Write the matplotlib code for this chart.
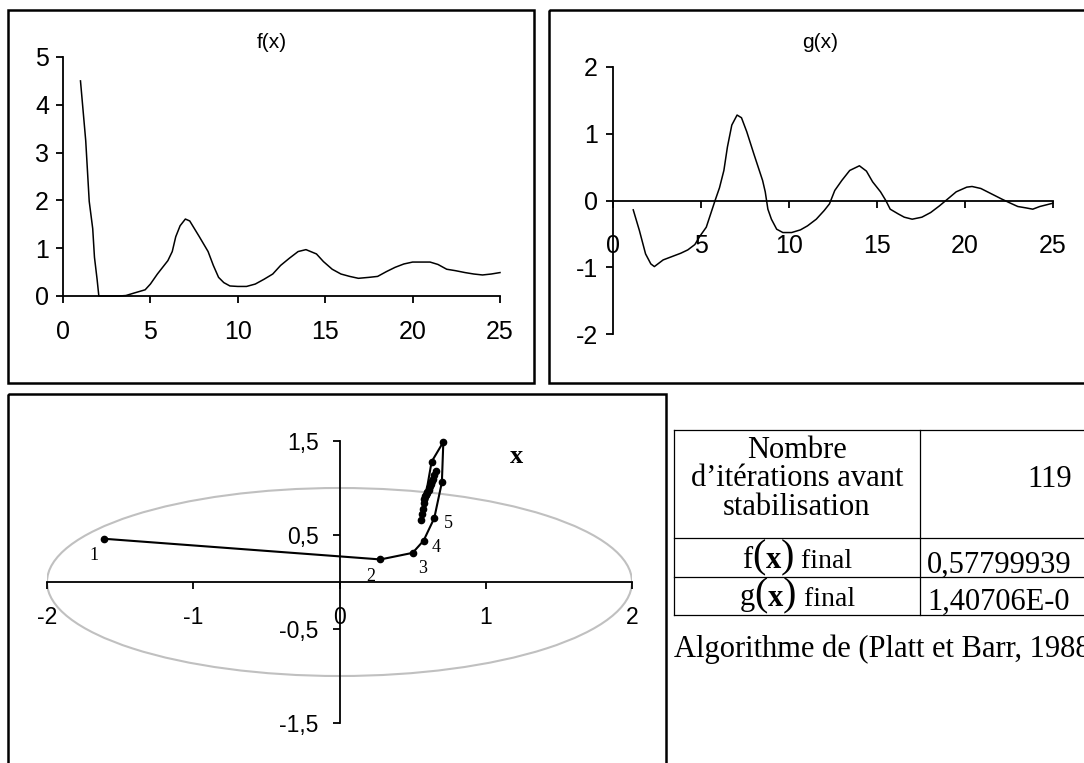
import matplotlib
matplotlib.use("Agg")
import matplotlib.pyplot as plt
from matplotlib.patches import Rectangle, Ellipse
from matplotlib.offsetbox import TextArea, HPacker, AnnotationBbox

plt.rcParams["font.family"] = ["Liberation Sans", "DejaVu Sans"]
plt.rcParams["axes.unicode_minus"] = False

# ---- DATA ----
f_x = [1.0, 1.3, 1.5, 1.7, 1.8, 1.95, 2.05, 3.2, 3.6, 4.05,
       4.7, 5.0, 5.4, 6.0, 6.25, 6.45, 6.7, 7.0, 7.25, 7.8,
       8.3, 8.6, 8.9, 9.2, 9.55, 10.0, 10.5, 11.0, 11.5, 12.0,
       12.45, 12.95, 13.45, 13.9, 14.5, 14.9, 15.4, 15.9, 16.4, 16.9,
       17.5, 18.0, 18.5, 19.0, 19.5, 20.0, 20.5, 21.0, 21.45, 21.95,
       22.45, 23.0, 23.5, 24.0, 24.5, 25.0]
f_y = [4.5, 3.25, 1.98, 1.41, 0.81, 0.35, 0.0, 0.0, 0.01, 0.06,
       0.13, 0.25, 0.46, 0.74, 0.93, 1.24, 1.47, 1.61, 1.57, 1.24,
       0.93, 0.64, 0.39, 0.28, 0.21, 0.20, 0.20, 0.25, 0.35, 0.46,
       0.64, 0.79, 0.93, 0.97, 0.88, 0.72, 0.56, 0.46, 0.41, 0.37,
       0.39, 0.41, 0.51, 0.60, 0.67, 0.71, 0.71, 0.71, 0.66, 0.56,
       0.53, 0.49, 0.46, 0.44, 0.46, 0.49]

g_x = [1.15, 1.5, 1.85, 2.15, 2.35, 2.55, 2.85, 3.35, 3.85, 4.25,
       4.65, 4.95, 5.3, 5.55, 5.8, 6.05, 6.3, 6.5, 6.75, 7.05,
       7.3, 7.6, 8.0, 8.25, 8.5, 8.65, 8.8, 9.0, 9.3, 9.65,
       10.15, 10.65, 11.05, 11.55, 12.0, 12.3, 12.6, 13.0, 13.45, 14.0,
       14.4, 14.75, 15.2, 15.5, 15.75, 16.2, 16.55, 17.0, 17.55, 18.05,
       18.55, 19.05, 19.5, 20.1, 20.4, 20.9, 21.5, 22.1, 22.5, 23.0,
       23.45, 23.85, 24.25, 25.0]
g_y = [-0.14, -0.45, -0.80, -0.95, -0.99, -0.95, -0.89, -0.84, -0.79, -0.74,
       -0.66, -0.53, -0.40, -0.20, 0.0, 0.19, 0.45, 0.80, 1.13, 1.28,
       1.24, 1.03, 0.70, 0.50, 0.30, 0.13, -0.13, -0.28, -0.43, -0.48,
       -0.48, -0.44, -0.38, -0.28, -0.15, -0.05, 0.15, 0.30, 0.45, 0.52,
       0.44, 0.28, 0.13, 0.0, -0.13, -0.20, -0.25, -0.28, -0.25, -0.18,
       -0.08, 0.03, 0.13, 0.20, 0.21, 0.18, 0.10, 0.02, -0.03, -0.09,
       -0.11, -0.13, -0.09, -0.04]

# trajectory of x (iterations)
traj_x = [-1.61, 0.28, 0.50, 0.575, 0.648, 0.70, 0.71, 0.63, 0.56, 0.66,
          0.565, 0.645, 0.57, 0.64, 0.575, 0.632, 0.58, 0.625, 0.585, 0.62,
          0.59, 0.615, 0.595, 0.61, 0.60]
traj_y = [0.46, 0.24, 0.31, 0.44, 0.68, 1.06, 1.49, 1.28, 0.66, 1.18,
          0.72, 1.14, 0.78, 1.10, 0.84, 1.07, 0.88, 1.04, 0.91, 1.02,
          0.93, 1.00, 0.95, 0.98, 0.96]
step_labels = ["1", "2", "3", "4", "5"]

bottom_xticks = [-2, -1, 0, 1, 2]
bottom_xlabels = ["-2", "-1", "0", "1", "2"]
bottom_yticks = [-1.5, -0.5, 0.5, 1.5]
bottom_ylabels = ["-1,5", "-0,5", "0,5", "1,5"]

table_head = "Nombre\nd\u2019itérations avant\nstabilisation"
n_iter = "119"
f_final = "0,57799939"
g_final = "1,40706E-0"
caption = "Algorithme de (Platt et Barr, 1988"

# ---- LAYOUT ----
W, H = 1084, 763
fig = plt.figure(figsize=(W / 100, H / 100), dpi=100)


def px_axes(x0, y0, x1, y1):
    return fig.add_axes([x0 / W, 1 - y1 / H, (x1 - x0) / W, (y1 - y0) / H])


def style(ax, size, xpad, ypad):
    ax.patch.set_alpha(0)
    for s in ["top", "right"]:
        ax.spines[s].set_visible(False)
    for s in ["left", "bottom"]:
        ax.spines[s].set_linewidth(1.3)
    ax.tick_params(direction="out", length=5, width=1.3, labelsize=size)
    ax.tick_params(axis="x", pad=xpad)
    ax.tick_params(axis="y", pad=ypad)


# f(x)
ax_f = px_axes(63, 57, 500, 296)
ax_f.plot(f_x, f_y, color="black", lw=1.1, clip_on=False)
ax_f.set_xlim(0, 25)
ax_f.set_ylim(0, 5)
ax_f.set_xticks(range(0, 26, 5))
ax_f.set_yticks(range(0, 6))
style(ax_f, 18, 12, 5)

# g(x)
ax_g = px_axes(613, 67, 1053, 334)
ax_g.plot(g_x, g_y, color="black", lw=1.1, clip_on=False)
ax_g.set_xlim(0, 25)
ax_g.set_ylim(-2, 2)
ax_g.set_xticks(range(0, 26, 5))
ax_g.set_yticks(range(-2, 3))
ax_g.spines["bottom"].set_position(("data", 0))
style(ax_g, 18, 19, 6)

# trajectory in the plane
ax_b = px_axes(47, 441, 632, 723)
ax_b.add_patch(Ellipse((0, 0), 4, 2, fill=False, edgecolor="#c0c0c0", lw=1.5))
ax_b.plot(traj_x, traj_y, color="black", lw=1.5, marker="o", ms=4.5, clip_on=False, zorder=3)
offsets = [(-7, -12), (-7, -12), (7, -11), (9, -5), (10, -4)]
for lab, px, py, off in zip(step_labels, traj_x, traj_y, offsets):
    ax_b.annotate(lab, (px, py), xytext=off, textcoords="offset points",
                  ha="center", va="center", fontsize=13, family="Liberation Serif")
ax_b.text(1.21, 1.33, "x", fontsize=19, fontweight="bold", family="Liberation Serif",
          ha="center", va="center")
ax_b.set_xlim(-2, 2)
ax_b.set_ylim(-1.5, 1.5)
ax_b.set_xticks(bottom_xticks, bottom_xlabels)
ax_b.set_yticks(bottom_yticks, bottom_ylabels)
ax_b.spines["bottom"].set_position(("data", 0))
ax_b.spines["left"].set_position(("data", 0))
style(ax_b, 16.5, 12, 10)

# ---- OVERLAY (frames, titles, table) ----
ov = fig.add_axes([0, 0, 1, 1])
ov.set_xlim(0, W)
ov.set_ylim(H, 0)
ov.axis("off")
ov.patch.set_alpha(0)

for x0, y0, x1, y1 in [(8, 10, 534, 383), (549, 10, 1100, 383), (8, 394, 666, 780)]:
    ov.add_patch(Rectangle((x0, y0), x1 - x0, y1 - y0, fill=False, lw=1.8,
                           edgecolor="black", clip_on=False))

ov.text(272, 43, "f(x)", fontsize=15, ha="center", va="center")
ov.text(820, 43, "g(x)", fontsize=15, ha="center", va="center")

# table grid
tl = dict(color="black", lw=0.9, clip_on=False)
ov.plot([674, 1100], [430, 430], **tl)
ov.plot([674, 1100], [538, 538], **tl)
ov.plot([674, 1100], [577, 577], **tl)
ov.plot([674, 1100], [615, 615], **tl)
ov.plot([674, 674], [430, 615], **tl)
ov.plot([920, 920], [430, 615], **tl)

serif = dict(family="Liberation Serif", fontsize=22)
ov.text(797, 479, table_head, ha="center", va="center", multialignment="center",
        linespacing=0.98, **serif)
ov.text(1050, 487, n_iter, ha="center", va="baseline", **serif)
ov.text(927, 573, f_final, ha="left", va="baseline", **serif)
ov.text(927, 610, g_final, ha="left", va="baseline", **serif)
ov.text(674, 657, caption, ha="left", va="baseline", **serif)


def fx_label(name):
    parts = [TextArea(name, textprops=dict(family="Liberation Serif", fontsize=22)),
             TextArea("(", textprops=dict(family="Liberation Serif", fontsize=29)),
             TextArea("x", textprops=dict(family="Liberation Serif", fontsize=22, fontweight="bold")),
             TextArea(")", textprops=dict(family="Liberation Serif", fontsize=29)),
             TextArea(" final", textprops=dict(family="Liberation Serif", fontsize=20))]
    return HPacker(children=parts, align="baseline", pad=0, sep=0)


for name, yc in [("f", 558), ("g", 596)]:
    ov.add_artist(AnnotationBbox(fx_label(name), (797, yc), xycoords="data",
                                 box_alignment=(0.5, 0.5), frameon=False))

fig.savefig("out.png", dpi=100)
